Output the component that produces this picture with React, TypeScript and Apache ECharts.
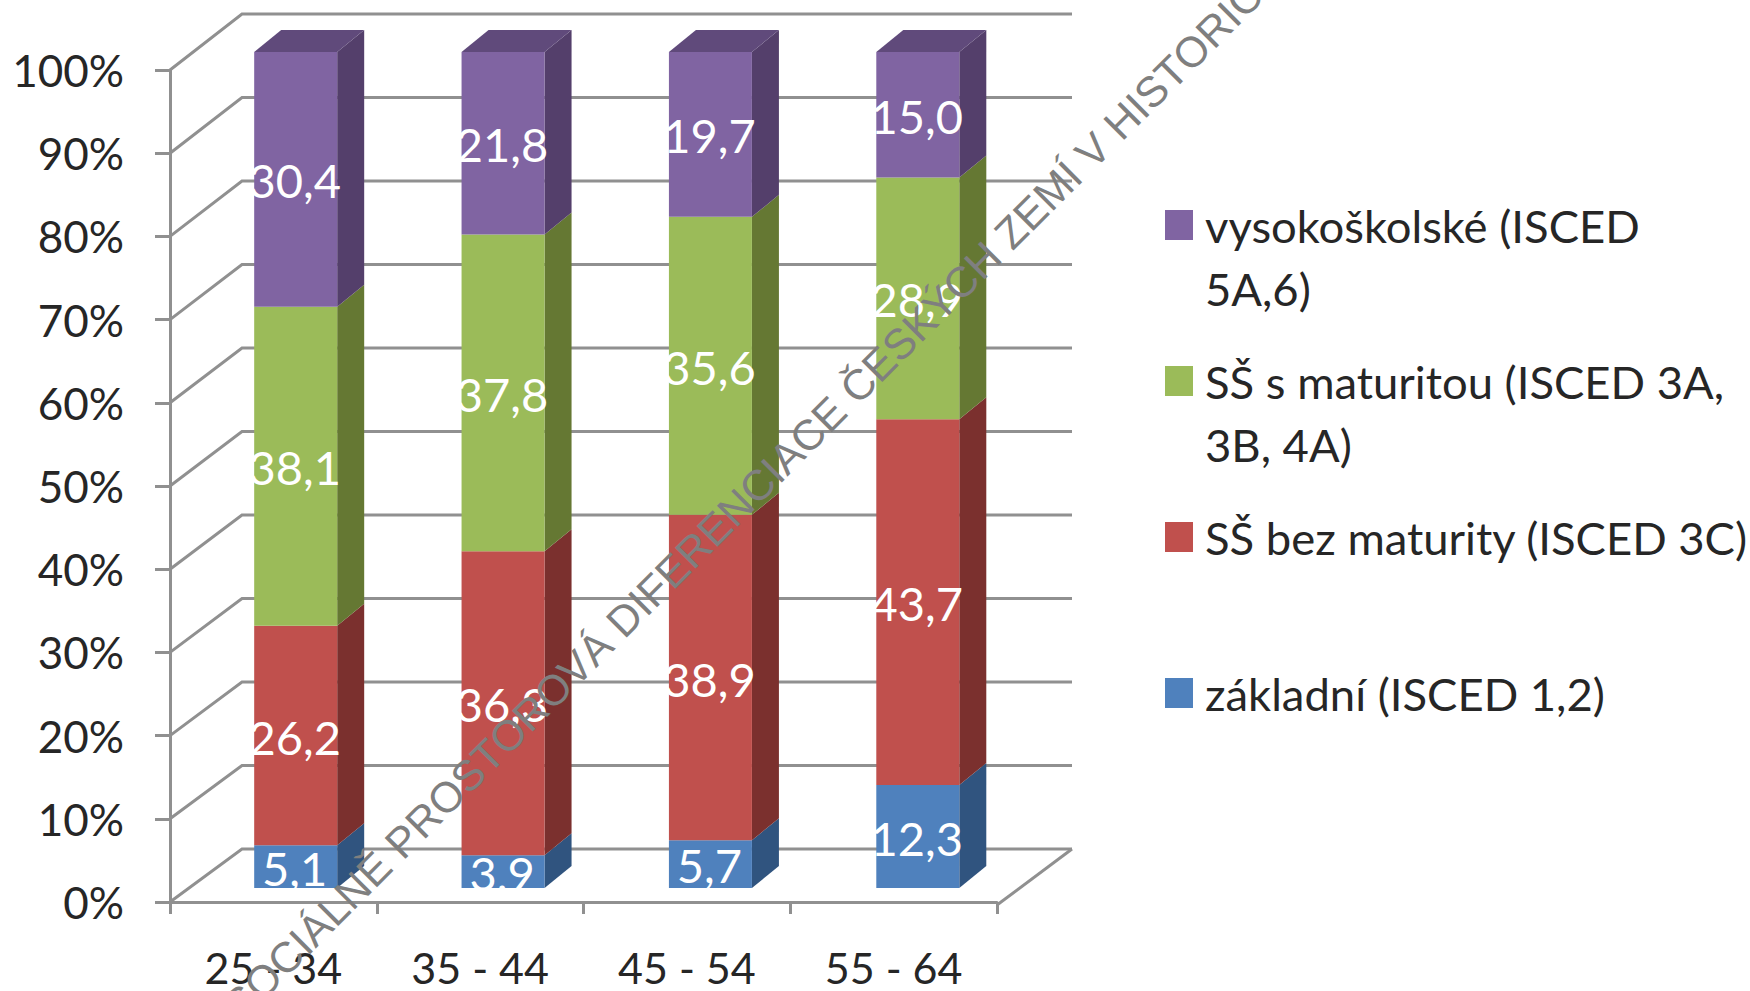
import React, { useEffect, useRef } from "react";
import * as echarts from "echarts";

const categories = ["25 - 34", "35 - 44", "45 - 54", "55 - 64"];
const zakladni = [5.1, 3.9, 5.7, 12.3];
const bezMaturity = [26.2, 36.3, 38.9, 43.7];
const sMaturitou = [38.1, 37.8, 35.6, 28.9];
const vysokoskolske = [30.4, 21.8, 19.7, 15.0];
const gridValues = [0, 10, 20, 30, 40, 50, 60, 70, 80, 90, 100];

const stack = [zakladni, bezMaturity, sMaturitou, vysokoskolske];
const names = [
  "základní (ISCED 1,2)",
  "SŠ bez maturity (ISCED 3C)",
  "SŠ s maturitou (ISCED 3A, 3B, 4A)",
  "vysokoškolské (ISCED 5A,6)",
];
const legendText: Record<string, string> = {
  [names[0]]: "základní (ISCED 1,2)",
  [names[1]]: "SŠ bez maturity (ISCED 3C)",
  [names[2]]: "\nSŠ s maturitou (ISCED 3A,\n3B, 4A)",
  [names[3]]: "\nvysokoškolské (ISCED\n5A,6)",
};
const frontColors = ["#4F81BD", "#C0504D", "#9BBB59", "#8064A2"];
const sideColors = ["#30547F", "#7B302E", "#657833", "#543F6B"];
const topColor = "#604A7B";
const WATERMARK = "SOCIÁLNĚ PROSTOROVÁ DIFERENCIACE ČESKÝCH ZEMÍ V HISTORIC";

const FONT = "Lato";
const GRID_COLOR = "#909090";
const TEXT_COLOR = "#262626";

// Pseudo-3D planes: maps a point of the front plane to the wall or the bar plane.
const toWall = (x: number, y: number) => [242 + ((x - 170) * 830) / 827, y - 53 - ((902 - y) * 3) / 832];
const toBar = (x: number, y: number) => [x + 22 + (x - 170) * 0.003, y - 14 - ((902 - y) * 4) / 832];

function segmentData(i: number) {
  return categories.map((_, c) => {
    const total = stack.reduce((s, arr) => s + arr[c], 0);
    const before = stack.slice(0, i).reduce((s, arr) => s + arr[c], 0);
    return [c, (before / total) * 100, ((before + stack[i][c]) / total) * 100, stack[i][c]];
  });
}

function renderSegment(i: number) {
  return (_params: any, api: any) => {
    const c = api.value(0);
    const a = api.coord([c, api.value(1)]);
    const b = api.coord([c, api.value(2)]);
    const [cx, y0] = toBar(a[0], a[1]);
    const [, y1] = toBar(b[0], b[1]);
    const half = 41.5;
    const dx = 27;
    const dy = 22;
    const children: any[] = [
      {
        type: "polygon",
        shape: { points: [[cx + half, y0], [cx + half + dx, y0 - dy], [cx + half + dx, y1 - dy], [cx + half, y1]] },
        style: { fill: sideColors[i] },
      },
      { type: "rect", shape: { x: cx - half, y: y1, width: half * 2, height: y0 - y1 }, style: { fill: frontColors[i] } },
    ];
    if (i === stack.length - 1) {
      children.push({
        type: "polygon",
        shape: { points: [[cx - half, y1], [cx - half + dx, y1 - dy], [cx + half + dx, y1 - dy], [cx + half, y1]] },
        style: { fill: topColor },
      });
    }
    children.push({
      type: "text",
      z2: 50,
      style: {
        text: api.value(3).toFixed(1).replace(".", ","),
        x: cx - 1,
        y: (y0 + y1) / 2 + 1,
        align: "center",
        verticalAlign: "middle",
        fill: "#ffffff",
        font: `47px ${FONT}`,
      },
    });
    if (i === 0) {
      // labels are cut off by the foot of the bar in the reference
      children.push({
        type: "rect",
        z2: 60,
        shape: { x: cx - half - 10, y: y0, width: half * 2 + 10, height: 13 },
        style: { fill: "#ffffff" },
      });
    }
    return { type: "group", children };
  };
}

function renderWall(params: any, api: any) {
  const v = api.value(1);
  const y = api.coord([0, v])[1];
  const left = params.coordSys.x;
  const right = left + params.coordSys.width;
  const back = toWall(left, y);
  const backRight = toWall(right, y);
  const style = { stroke: GRID_COLOR, lineWidth: 3, fill: "none" };
  const children: any[] = [
    { type: "polyline", shape: { points: [[left, y], back, backRight] }, style },
  ];
  if (v === 0) {
    children.push({ type: "line", shape: { x1: backRight[0], y1: backRight[1], x2: right, y2: y + 3 }, style });
  }
  return { type: "group", children };
}

export default function App() {
  const ref = useRef<HTMLDivElement>(null);
  useEffect(() => {
    const chart = echarts.init(ref.current!, undefined, { renderer: "svg" });
    const legendCentres = [693, 537, 381, 225];
    chart.setOption({
      animation: false,
      backgroundColor: "#ffffff",
      grid: { left: 170, top: 70, width: 827, height: 832 },
      xAxis: {
        type: "category",
        data: categories,
        offset: 3,
        axisLine: { show: true, lineStyle: { color: GRID_COLOR, width: 3 } },
        axisTick: { show: true, length: 12, lineStyle: { color: GRID_COLOR, width: 3 } },
        axisLabel: { color: TEXT_COLOR, fontFamily: FONT, fontSize: 43, lineHeight: 42, margin: 41 },
      },
      yAxis: {
        type: "value",
        min: 0,
        max: 100,
        interval: 10,
        splitLine: { show: false },
        axisLine: { show: true, lineStyle: { color: GRID_COLOR, width: 3 } },
        axisTick: { show: true, length: 15, lineStyle: { color: GRID_COLOR, width: 3 } },
        axisLabel: { color: TEXT_COLOR, fontFamily: FONT, fontSize: 44, margin: 46, formatter: "{value}%" },
      },
      legend: names.map((name, i) => {
        const wrapped = legendText[name].includes("\n");
        return {
          data: [name],
          left: 1160,
          top: legendCentres[i] + (wrapped ? -99.5 : -36.5),
          orient: "vertical",
          icon: "rect",
          itemWidth: 28,
          itemHeight: 30,
          itemGap: 0,
          selectedMode: false,
          formatter: (n: string) => legendText[n],
          textStyle: {
            color: TEXT_COLOR,
            fontFamily: FONT,
            fontSize: 45.4,
            lineHeight: 63,
            padding: [0, 0, 0, 7],
          },
        };
      }),
      graphic: [
        {
          type: "text",
          x: 231,
          y: 1012,
          rotation: 0.785,
          z: 100,
          silent: true,
          style: {
            text: WATERMARK,
            x: 0,
            y: 0,
            fill: "#7f7f7f",
            font: `42.8px "Liberation Sans"`,
            align: "left",
            verticalAlign: "middle",
          },
        },
      ],
      series: [
        {
          type: "custom",
          coordinateSystem: "cartesian2d",
          z: 1,
          silent: true,
          data: gridValues.map((v) => [0, v]),
          encode: { x: 0, y: 1 },
          renderItem: renderWall,
        },
        ...names.map((name, i) => ({
          type: "custom",
          name,
          coordinateSystem: "cartesian2d",
          z: 3 + i,
          itemStyle: { color: frontColors[i] },
          data: segmentData(i),
          encode: { x: 0, y: [1, 2] },
          renderItem: renderSegment(i),
        })),
      ],
    });
    return () => chart.dispose();
  }, []);
  return <div ref={ref} style={{ position: "fixed", left: 0, top: 0, width: 1750, height: 991 }} />;
}
